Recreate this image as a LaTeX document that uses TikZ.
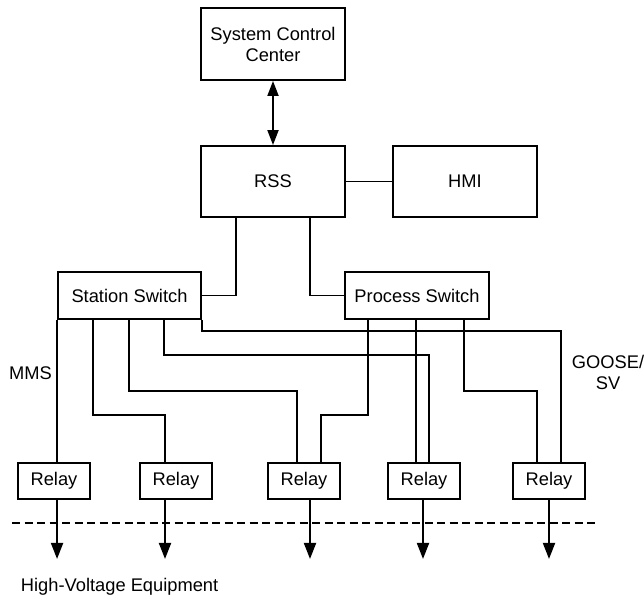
\documentclass[tikz,border=0pt]{standalone}
\usepackage{fontspec}
\setmainfont{Liberation Sans}
\usetikzlibrary{arrows.meta,calc}
\newcommand\diagfont{\fontsize{18.3}{21}\selectfont}
\begin{document}
\begin{tikzpicture}[x=1pt,y=-1pt,line width=1.9pt,
  box/.style={draw,line width=1.9pt,inner sep=0pt,align=center,font=\diagfont},
  bigbox/.style={box,minimum width=144pt,minimum height=71pt},
  swbox/.style={box,minimum height=47pt},
  relaybox/.style={box,minimum width=72pt,minimum height=36pt},
  lbl/.style={inner sep=0pt,align=center,font=\diagfont},
  downarrow/.style={-{Triangle[length=16pt,width=12pt]}},
  dblarrow/.style={{Triangle[length=15pt,width=11pt]}-{Triangle[length=15pt,width=11pt]}},
  boundary/.style={dashed,dash pattern=on 8pt off 4.5pt}]
\useasboundingbox (0,0) rectangle (644,599);
% boxes
\node[bigbox,minimum height=72pt] (scc) at (273,44) {System Control\\Center};
\node[bigbox] (rss) at (273,181.5) {RSS};
\node[bigbox] (hmi) at (465,181.5) {HMI};
\node[swbox,minimum width=143pt] (ss) at (129.5,295.5) {Station Switch};
\node[swbox,minimum width=144pt] (ps) at (417,295.5) {Process Switch};
\node[relaybox] (r1) at (54,481) {Relay};
\node[relaybox] (r2) at (176,481) {Relay};
\node[relaybox] (r3) at (304,481) {Relay};
\node[relaybox] (r4) at (424,481) {Relay};
\node[relaybox] (r5) at (549,481) {Relay};
% upper connectors
\draw[dblarrow] (scc) -- (rss);
\draw (rss) -- (hmi);
\draw ($(rss.south west)+(36,0)$) |- (ss.east);
\draw ($(rss.south east)+(-36,0)$) |- (ps.west);
% station switch to relays
\draw (ss.south west) -- (ss.south west |- r1.north);
\draw ($(ss.south west)+(36,0)$) |- (165,415) coordinate (b2) -- (b2 |- r2.north);
\draw ($(ss.south west)+(72,0)$) |- (297,391) coordinate (b3) -- (b3 |- r3.north);
\draw ($(ss.south west)+(107,0)$) |- (429,355) coordinate (b4) -- (b4 |- r4.north);
\draw (ss.south east) |- (561,331) coordinate (b5) -- (b5 |- r5.north);
% process switch to relays
\draw ($(ps.south west)+(24,0)$) |- (321,415) coordinate (c3) -- (c3 |- r3.north);
\draw ($(ps.south west)+(72,0)$) coordinate (c4) -- (c4 |- r4.north);
\draw ($(ps.south west)+(120,0)$) |- (537,391) coordinate (c5) -- (c5 |- r5.north);
% relays to equipment
\draw[downarrow] (ss.south west |- r1.south) -- ++(0,59);
\draw[downarrow] (b2 |- r2.south) -- ++(0,59);
\draw[downarrow] ($(r3.south)+(6,0)$) -- ++(0,59);
\draw[downarrow] ($(r4.south)+(-1,0)$) -- ++(0,59);
\draw[downarrow] (r5.south) -- ++(0,59);
% boundary
\coordinate (dl) at (12,523);
\coordinate (dr) at (595,523);
\draw[boundary] (dl) -- (dr);
% labels
\node[lbl] (mms) at (30.5,372.7) {MMS};
\node[lbl] (goose) at (608,372.5) {GOOSE/\\SV};
\node[lbl,anchor=west] (hv) at (20,587) {High-Voltage Equipment};
\end{tikzpicture}
\end{document}
